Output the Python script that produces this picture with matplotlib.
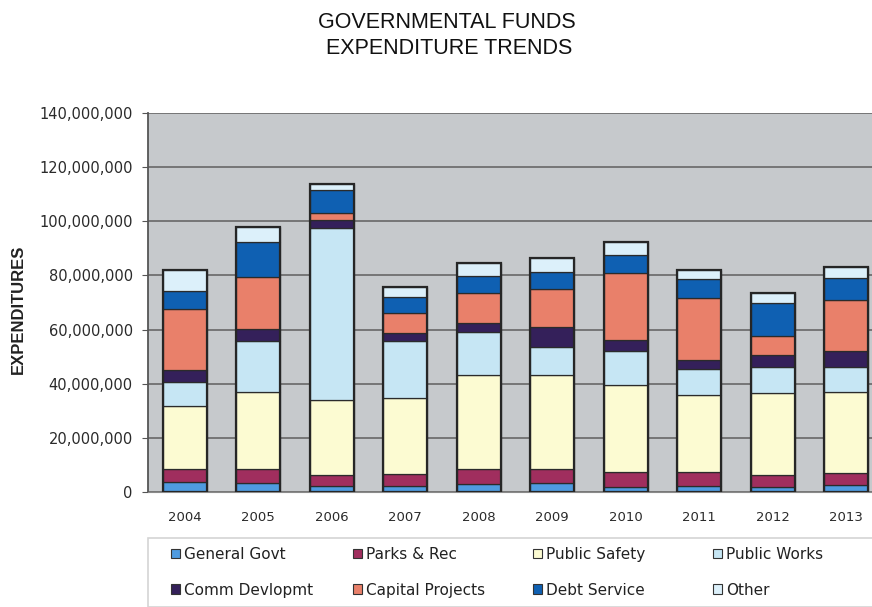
import matplotlib
matplotlib.use("Agg")
import matplotlib.pyplot as plt
import numpy as np
from matplotlib.ticker import FuncFormatter, MultipleLocator
from matplotlib.patches import Patch, Rectangle

years = ["2004", "2005", "2006", "2007", "2008", "2009", "2010", "2011", "2012", "2013"]

# Expenditures by function, in millions of dollars
general_govt = [3.6, 3.3, 2.4, 2.4, 3.0, 3.3, 2.0, 2.4, 2.0, 2.5]
parks_rec = [5.0, 5.3, 3.7, 4.1, 5.6, 5.3, 5.3, 4.9, 4.3, 4.5]
public_safety = [23.1, 28.4, 27.8, 28.4, 34.8, 34.5, 32.1, 28.4, 30.3, 30.0]
public_works = [9.0, 18.9, 63.6, 21.0, 15.6, 10.5, 12.6, 9.7, 9.6, 9.2]
comm_devlopmt = [4.3, 4.2, 3.1, 2.7, 3.5, 7.2, 4.1, 3.3, 4.3, 5.9]
capital_projects = [22.5, 19.2, 2.4, 7.6, 11.1, 14.2, 24.7, 22.8, 7.0, 18.8]
debt_service = [6.9, 13.2, 8.4, 5.7, 6.2, 6.4, 6.8, 7.2, 12.4, 8.1]
other = [7.6, 5.3, 2.5, 4.0, 4.9, 5.0, 4.9, 3.3, 3.7, 4.0]

series = [
    ("General Govt", general_govt, "#4f9be0"),
    ("Parks & Rec", parks_rec, "#a02e5e"),
    ("Public Safety", public_safety, "#fcfbd2"),
    ("Public Works", public_works, "#c6e6f4"),
    ("Comm Devlopmt", comm_devlopmt, "#34205a"),
    ("Capital Projects", capital_projects, "#e9806a"),
    ("Debt Service", debt_service, "#0f60b2"),
    ("Other", other, "#dcf0fa"),
]

W, H = 872, 607
fig = plt.figure(figsize=(W / 100, H / 100), dpi=100)
fig.patch.set_facecolor("white")

ax = fig.add_axes([148 / W, 1 - 492 / H, 735 / W, (492 - 113) / H])
ax.set_facecolor("#c6c9cc")

x = np.arange(len(years))
bw = 0.6
bottom = np.zeros(len(years))
handles = {}
for name, vals, color in series:
    v = np.array(vals) * 1e6
    ax.bar(x, v, bw, bottom=bottom, color=color, edgecolor="#2b2b2b",
           linewidth=0.9, zorder=3)
    bottom += v
    handles[name] = Patch(facecolor=color, edgecolor="#333333", linewidth=0.8)

# heavier outline around each full stack
ax.bar(x, bottom, bw, facecolor="none", edgecolor="#262626", linewidth=1.6, zorder=4)

ax.set_xlim(-0.5, 9.5)
ax.set_ylim(0, 140e6)
ax.yaxis.set_major_locator(MultipleLocator(20e6))
ax.yaxis.set_major_formatter(FuncFormatter(lambda v, p: f"{v:,.0f}"))
ax.grid(axis="y", color="#5f5f5f", linewidth=1.1, zorder=1)
ax.set_axisbelow(True)

ax.set_xticks(x)
ax.set_xticklabels(years)
for s in ["top", "right"]:
    ax.spines[s].set_visible(False)
ax.spines["left"].set_color("#555555")
ax.spines["left"].set_linewidth(1.3)
ax.spines["bottom"].set_color("#8a8a8a")
ax.tick_params(axis="y", length=4, color="#555555", pad=7, labelsize=10.5,
               labelcolor="#2a2a2a")
ax.tick_params(axis="x", length=0, pad=14, labelsize=9.5, labelcolor="#2a2a2a")
for lbl in ax.get_yticklabels() + ax.get_xticklabels():
    lbl.set_family("DejaVu Sans")

fig.text(18 / W, 1 - 309 / H, "EXPENDITURES", rotation=90, ha="center", va="center",
         fontsize=12, fontweight="bold", family="Liberation Sans", color="#222222")

fig.text(447 / W, 1 - 22 / H, "GOVERNMENTAL FUNDS", ha="center", va="center",
         fontsize=15.5, family="Liberation Sans", color="#111111")
fig.text(449 / W, 1 - 49 / H, "EXPENDITURE TRENDS", ha="center", va="center",
         fontsize=15.5, family="Liberation Sans", color="#111111")

# legend box, then one two-row column of entries per slot
fig.add_artist(Rectangle((148 / W, 0.0), 740 / W, 69 / H, transform=fig.transFigure,
                         facecolor="white", edgecolor="#d4d4d4", linewidth=1.2,
                         zorder=0))
columns = [("General Govt", "Comm Devlopmt"), ("Parks & Rec", "Capital Projects"),
           ("Public Safety", "Debt Service"), ("Public Works", "Other")]
col_x = [171, 353, 533, 713]
for cx, names in zip(col_x, columns):
    leg = fig.legend([handles[n] for n in names], list(names), ncol=1,
                     loc="upper left", bbox_to_anchor=(cx / W, 1 - 547 / H),
                     prop={"family": "DejaVu Sans", "size": 11},
                     handlelength=0.6, handleheight=0.6, handletextpad=0.25,
                     labelspacing=1.35, borderpad=0.0, borderaxespad=0.0,
                     frameon=False)
    for t in leg.get_texts():
        t.set_color("#222222")

fig.savefig("out.png", dpi=100, facecolor="white")
